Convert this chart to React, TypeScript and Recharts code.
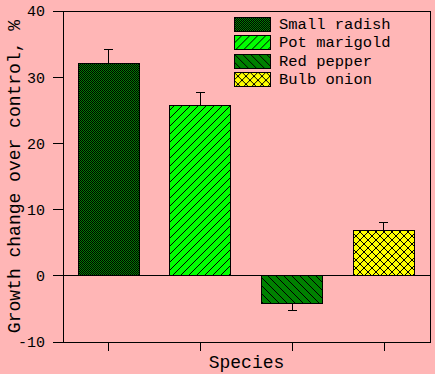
import {
  Bar,
  BarChart,
  Cell,
  ErrorBar,
  Label,
  ReferenceArea,
  ReferenceLine,
  XAxis,
  YAxis,
} from "recharts";

const species = ["Small radish", "Pot marigold", "Red pepper", "Bulb onion"];
const growth = [32.1, 25.8, -4.15, 6.9];
const errors = [2.1, 1.9, 1.05, 1.2];
const yTicks = [-10, 0, 10, 20, 30, 40];
const patternIds = ["pat-radish", "pat-marigold", "pat-pepper", "pat-onion"];

const mono = "'Courier New', 'Liberation Mono', Courier, monospace";
const bg = "#ffb6b6";

// error bars only on the side away from zero
const chartData = species.map((name, i) => ({
  name,
  value: growth[i],
  err: growth[i] >= 0 ? [0, errors[i]] : [errors[i], 0],
}));

function Patterns() {
  return (
    <svg width={0} height={0} style={{ position: "absolute" }}>
      <defs>
        <pattern id="pat-radish" patternUnits="userSpaceOnUse" width={2} height={2}>
          <rect width={2} height={2} fill="#008000" />
          <rect x={0} y={0} width={1} height={1} fill="#000" />
          <rect x={1} y={1} width={1} height={1} fill="#000" />
        </pattern>
        <pattern id="pat-marigold" patternUnits="userSpaceOnUse" width={8} height={8}>
          <rect width={8} height={8} fill="#00ff00" />
          <path d="M0,8 L8,0 M-2,2 L2,-2 M6,10 L10,6" stroke="#000" strokeWidth={1} />
        </pattern>
        <pattern id="pat-pepper" patternUnits="userSpaceOnUse" width={8} height={8}>
          <rect width={8} height={8} fill="#008000" />
          <path d="M0,0 L8,8 M-2,6 L2,10 M6,-2 L10,2" stroke="#000" strokeWidth={1} />
        </pattern>
        <pattern id="pat-onion" patternUnits="userSpaceOnUse" width={8} height={8}>
          <rect width={8} height={8} fill="#ffff00" />
          <path
            d="M0,8 L8,0 M-2,2 L2,-2 M6,10 L10,6 M0,0 L8,8 M-2,6 L2,10 M6,-2 L10,2"
            stroke="#000"
            strokeWidth={1}
          />
          <rect x={3} y={3} width={2} height={2} fill="#000" />
        </pattern>
      </defs>
    </svg>
  );
}

function LegendBox() {
  return (
    <svg
      width={190}
      height={80}
      style={{ position: "absolute", left: 234, top: 17, display: "block" }}
    >
      {species.map((name, i) => (
        <g key={name} transform={`translate(0, ${i * 18.4})`}>
          <rect
            x={0.5}
            y={0.5}
            width={36}
            height={14}
            fill={`url(#${patternIds[i]})`}
            stroke="#000"
            shapeRendering="crispEdges"
          />
          <text x={45} y={12} fontFamily={mono} fontSize={15.5} fill="#000">
            {name}
          </text>
        </g>
      ))}
    </svg>
  );
}

export default function App() {
  return (
    <div style={{ position: "absolute", left: 0, top: 0, width: 435, height: 374, background: bg }}>
      <Patterns />
      <BarChart
        width={435}
        height={374}
        data={chartData}
        margin={{ top: 11, right: 5, bottom: 0, left: 0 }}
        barSize={61}
        style={{ shapeRendering: "crispEdges" }}
      >
        <ReferenceArea y1={-10} y2={40} fill="none" stroke="#000" strokeWidth={1} />
        <XAxis
          dataKey="name"
          height={32}
          tickSize={9}
          tickFormatter={() => ""}
          axisLine={{ stroke: "#000" }}
          tickLine={{ stroke: "#000" }}
        >
          <Label
            value="Species"
            position="insideBottom"
            offset={6}
            style={{ fontFamily: mono, fontSize: 18, fill: "#000" }}
          />
        </XAxis>
        <YAxis
          width={63}
          domain={[-10, 40]}
          ticks={yTicks}
          interval={0}
          tickSize={10}
          tickMargin={8}
          axisLine={{ stroke: "#000" }}
          tickLine={{ stroke: "#000" }}
          tick={{ fill: "#000", fontSize: 15, fontFamily: mono }}
        >
          <Label
            value="Growth change over control, %"
            position="center"
            angle={-90}
            dx={-18}
            style={{ fontFamily: mono, fontSize: 18, fill: "#000" }}
          />
        </YAxis>
        <ReferenceLine y={0} stroke="#000" strokeWidth={1} />
        <Bar dataKey="value" stroke="#000" strokeWidth={1} isAnimationActive={false}>
          {chartData.map((d, i) => (
            <Cell key={d.name} fill={`url(#${patternIds[i]})`} />
          ))}
          <ErrorBar dataKey="err" direction="y" width={4.5} stroke="#000" strokeWidth={1} />
        </Bar>
      </BarChart>
      <LegendBox />
    </div>
  );
}
